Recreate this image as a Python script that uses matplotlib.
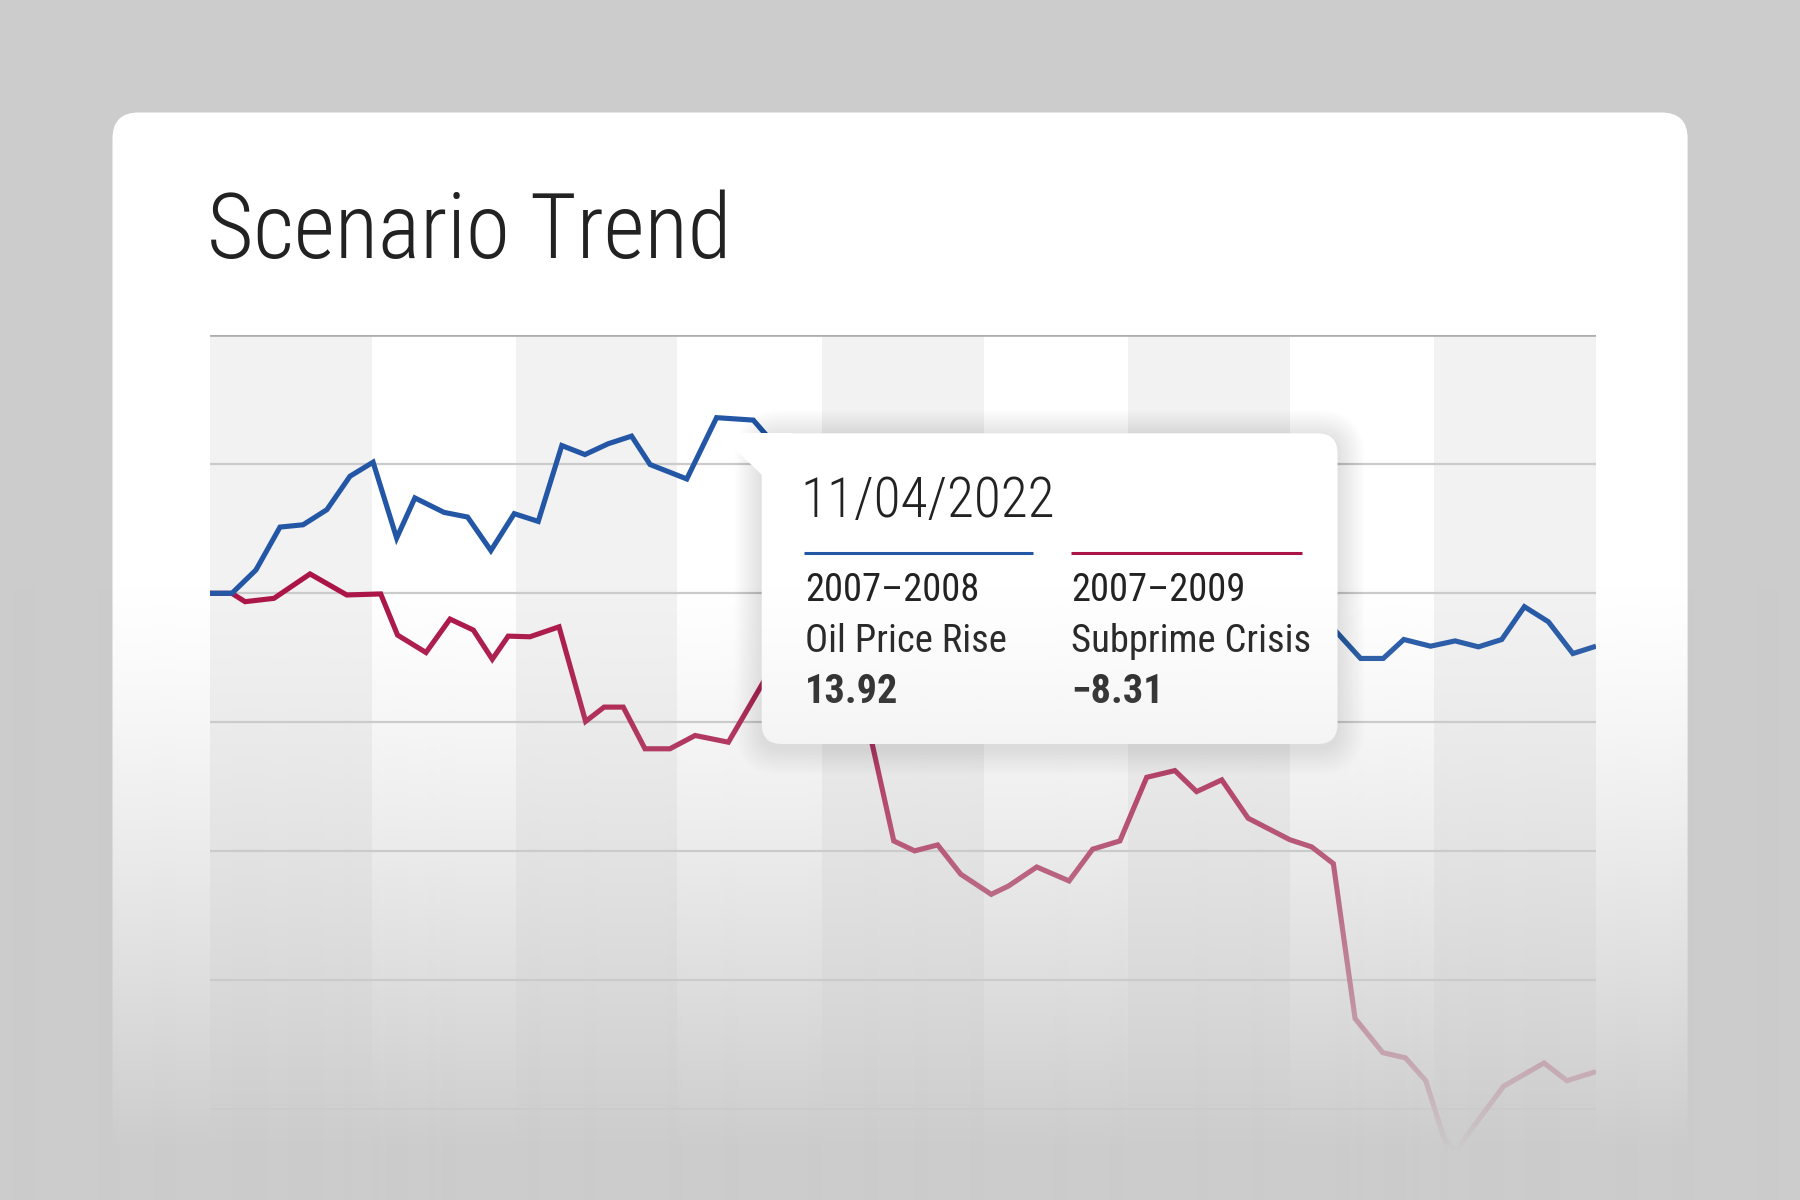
import numpy as np
import matplotlib
matplotlib.use('Agg')
import matplotlib.pyplot as plt
from matplotlib import font_manager as fm
from matplotlib.font_manager import FontProperties
from matplotlib.patches import FancyBboxPatch, Polygon
from matplotlib.ft2font import FT2Font

# ---------------- data ----------------
title_text = "Scenario Trend"
tooltip_date = "11/04/2022"
series_periods = ["2007\u20132008", "2007\u20132009"]
series_names = ["Oil Price Rise", "Subprime Crisis"]
tooltip_values = ["13.92", "\u22128.31"]

oil_x = [0, 0.95, 1.99, 3.03, 4.03, 5.06, 6.06, 7.06, 8.08, 8.87,
         10.13, 11.15, 12.16, 13.17, 14.21, 15.23, 16.23, 17.24, 18.25, 19.05,
         20.64, 21.93, 23.52, 24.5, 25.6, 26.6, 27.7, 28.8, 29.9, 31.0,
         32.1, 33.2, 34.3, 35.4, 36.5, 37.6, 38.7, 39.8, 40.9, 42.0,
         43.1, 44.2, 45.3, 46.4, 47.8, 49.81, 50.79, 51.68, 52.84, 53.9,
         54.91, 55.92, 56.9, 57.94, 59.0, 60.0]
oil_y = [0, 0, 1.81, 5.13, 5.31, 6.48, 9.07, 10.16, 4.28, 7.39,
         6.27, 5.91, 3.31, 6.17, 5.57, 11.45, 10.75, 11.59, 12.18, 9.98,
         8.86, 13.61, 13.42, 11.4, 9.6, 10.5, 8.3, 9.1, 7.0, 7.9,
         5.6, 6.4, 4.3, 5.2, 3.1, 4.0, 2.2, 3.0, 1.2, 2.1,
         0.4, 1.3, -0.4, 0.5, -1.1, -5.05, -5.05, -3.58, -4.10, -3.69,
         -4.15, -3.58, -1.04, -2.21, -4.67, -4.10]

sub_x = [0, 0.94, 1.52, 2.77, 4.33, 5.92, 7.39, 8.12, 9.35, 10.39,
         11.4, 12.22, 12.91, 13.85, 15.11, 16.26, 17.06, 17.89, 18.83, 19.91,
         21.0, 22.44, 24.46, 25.54, 26.62, 28.05, 29.6, 30.5, 31.5, 32.5,
         33.82, 34.57, 35.79, 37.19, 38.21, 39.39, 40.55, 41.77, 42.71, 43.8,
         44.94, 46.75, 47.69, 48.63, 49.57, 50.77, 51.75, 52.63, 53.42, 53.95,
         54.5, 56.0, 57.75, 58.74, 60.0]
sub_y = [0, 0, -0.65, -0.39, 1.50, -0.13, -0.05, -3.24, -4.59, -2.0,
         -2.85, -5.11, -3.32, -3.37, -2.60, -9.93, -8.82, -8.82, -12.05, -12.05,
         -11.02, -11.54, -5.34, -6.1, -5.2, -6.72, -19.19, -19.96, -19.5, -21.77,
         -23.33, -22.68, -21.21, -22.29, -19.83, -19.19, -14.26, -13.74, -15.37, -14.46,
         -17.43, -19.1, -19.65, -20.95, -32.95, -35.6, -36.0, -37.77, -42.24, -43.3,
         -41.8, -38.2, -36.4, -37.77, -37.07]

band_edges = [0, 7.0, 13.25, 20.2, 26.5, 33.5, 39.75, 46.75, 53.0, 60.0]
grid_levels = [20, 10, 0, -10, -20, -30, -40]
x_range = (0, 60)
y_range = (-47, 20)

BLUE = '#2357a6'
RED = '#ab1446'
TEXT = '#222222'


# ---------------- fonts ----------------
def wnum(w):
    if isinstance(w, (int, float)):
        return int(w)
    return fm.weight_dict.get(w, 400)


def is_cond(f):
    st = f.stretch
    if isinstance(st, str):
        c = ('condensed' in st) or ('narrow' in st)
    else:
        c = st < 500
    return c or ('Condensed' in f.name) or ('Narrow' in f.name)


def pick_fonts():
    entries = fm.fontManager.ttflist
    prefs = ['Roboto Condensed', 'Noto Sans', 'Liberation Sans Narrow',
             'DejaVu Sans', 'Open Sans', 'Roboto']
    for p in prefs:
        fam = [f for f in entries if f.name == p and f.style == 'normal' and is_cond(f)]
        if not fam:
            continue
        light = min(fam, key=lambda f: abs(wnum(f.weight) - 300))
        reg = min(fam, key=lambda f: abs(wnum(f.weight) - 400))
        bold = min(fam, key=lambda f: abs(wnum(f.weight) - 700))
        return light.fname, reg.fname, bold.fname
    fam = [f for f in entries if f.name == 'Roboto' and f.style == 'normal']
    if fam:
        light = min(fam, key=lambda f: abs(wnum(f.weight) - 300))
        reg = min(fam, key=lambda f: abs(wnum(f.weight) - 400))
        bold = min(fam, key=lambda f: abs(wnum(f.weight) - 700))
        return light.fname, reg.fname, bold.fname
    return None, None, None


LIGHT, REG, BOLD = pick_fonts()


def has_glyph(path, ch):
    try:
        return ord(ch) in FT2Font(path).get_charmap()
    except Exception:
        return False


if REG is not None:
    if not has_glyph(REG, '\u2013'):
        series_periods = [s.replace('\u2013', '-') for s in series_periods]
    if not has_glyph(BOLD, '\u2212'):
        tooltip_values = [s.replace('\u2212', '-') for s in tooltip_values]


def fp(kind='reg', size=12):
    path = {'light': LIGHT, 'reg': REG, 'bold': BOLD}[kind]
    if path is None:
        return FontProperties(family='DejaVu Sans', weight='bold' if kind == 'bold' else 'normal', size=size)
    return FontProperties(fname=path, size=size)


# ---------------- figure ----------------
W, H = 1800, 1200
fig = plt.figure(figsize=(18, 12), dpi=100)
fig.patch.set_facecolor('#cccccc')


def px_axes(z):
    a = fig.add_axes([0, 0, 1, 1], zorder=z)
    a.set_xlim(0, W)
    a.set_ylim(H, 0)
    a.axis('off')
    a.patch.set_alpha(0)
    return a


# card
ax_bg = px_axes(0)
ax_bg.add_patch(FancyBboxPatch((112.5, 112.5), 1687.6 - 112.5, 1400,
                               boxstyle='round,pad=0,rounding_size=26',
                               fc='white', ec='none'))

# chart
top_px, bot_px, left_px, right_px = 335.2, 1199.8, 210.0, 1596.0
ax = fig.add_axes([left_px / W, 1 - bot_px / H, (right_px - left_px) / W, (bot_px - top_px) / H], zorder=1)
ax.patch.set_alpha(0)
ax.set_xlim(*x_range)
ax.set_ylim(*y_range)
for s in ax.spines.values():
    s.set_visible(False)
ax.set_xticks([])
ax.set_yticks([])
for i in range(len(band_edges) - 1):
    if i % 2 == 0:
        ax.axvspan(band_edges[i], band_edges[i + 1], color='#f2f2f2', lw=0, zorder=0)
for g in grid_levels[1:]:
    ax.axhline(g, color='#cbcbcb', lw=1.6, zorder=1)
ax.axhline(grid_levels[0], color='#adadad', lw=1.9, zorder=1)
ax.plot(sub_x, sub_y, color=RED, lw=3.7, solid_joinstyle='miter', solid_capstyle='butt', zorder=3)
ax.plot(oil_x, oil_y, color=BLUE, lw=3.7, solid_joinstyle='miter', solid_capstyle='butt', zorder=4)

# title
t_title = ax_bg.text(207, 258.3, title_text, fontproperties=fp('light', 68.8), color=TEXT,
                     va='baseline', ha='left')

# tooltip
ax_tip = px_axes(2)
bx0, by0, bx1, by1 = 761.7, 433.3, 1337.5, 744.0
for k in range(1, 16):
    ax_tip.add_patch(FancyBboxPatch((bx0, by0 + 4), bx1 - bx0, by1 - by0,
                                    boxstyle='round,pad=%g,rounding_size=%g' % (k * 1.8, 20 + k * 1.8),
                                    fc='black', ec='none', alpha=0.006))
ax_tip.add_patch(FancyBboxPatch((bx0, by0), bx1 - bx0, by1 - by0,
                                boxstyle='round,pad=0,rounding_size=20', fc='white', ec='none'))
ax_tip.add_patch(Polygon([(718.3, by0), (bx0 + 30, by0), (bx0 + 30, 475), (bx0, 475)],
                         closed=True, fc='white', ec='none'))

ax_tip.plot([804, 1033], [553.3, 553.3], color=BLUE, lw=2.2, solid_capstyle='butt')
ax_tip.plot([1071, 1302], [553.3, 553.3], color=RED, lw=2.2, solid_capstyle='butt')

t_date = ax_tip.text(800, 516.7, tooltip_date, fontproperties=fp('light', 44.6), color=TEXT, va='baseline')
col_x = [805, 1071]
body = []
bold = []
for cx, per, nm, val in zip(col_x, series_periods, series_names, tooltip_values):
    body.append(ax_tip.text(cx, 600.7, per, fontproperties=fp('reg', 29.9), color=TEXT, va='baseline'))
    body.append(ax_tip.text(cx, 651.7, nm, fontproperties=fp('reg', 29.9), color=TEXT, va='baseline'))
    bold.append(ax_tip.text(cx, 703.3, val, fontproperties=fp('bold', 30.4), color=TEXT, va='baseline'))

# fit text widths to reference widths (compromise between height and width)
renderer = fig.canvas.get_renderer()


def fit(texts, targets):
    r = max(t.get_window_extent(renderer).width / w for t, w in zip(texts, targets))
    if r > 1.04:
        k = (1.04 / r) ** 0.7
        for t in texts:
            t.set_fontsize(t.get_fontsize() * k)


fit([t_title], [491])
fit([t_date], [233])
fit(body, [163, 197, 163, 241])
fit(bold, [88, 88])

# bottom fade
ax_fade = px_axes(5)
ys = np.arange(H)
t = np.clip((ys - 580.0) / (1150.0 - 580.0), 0, 1)
alpha = t ** 1.25
img = np.zeros((H, 1, 4))
img[..., :3] = 204 / 255.0
img[:, 0, 3] = alpha
ax_fade.imshow(img, extent=(0, W, H, 0), aspect='auto', interpolation='bilinear')
ax_fade.set_xlim(0, W)
ax_fade.set_ylim(H, 0)

fig.savefig('out.png', dpi=100, facecolor=fig.get_facecolor())
